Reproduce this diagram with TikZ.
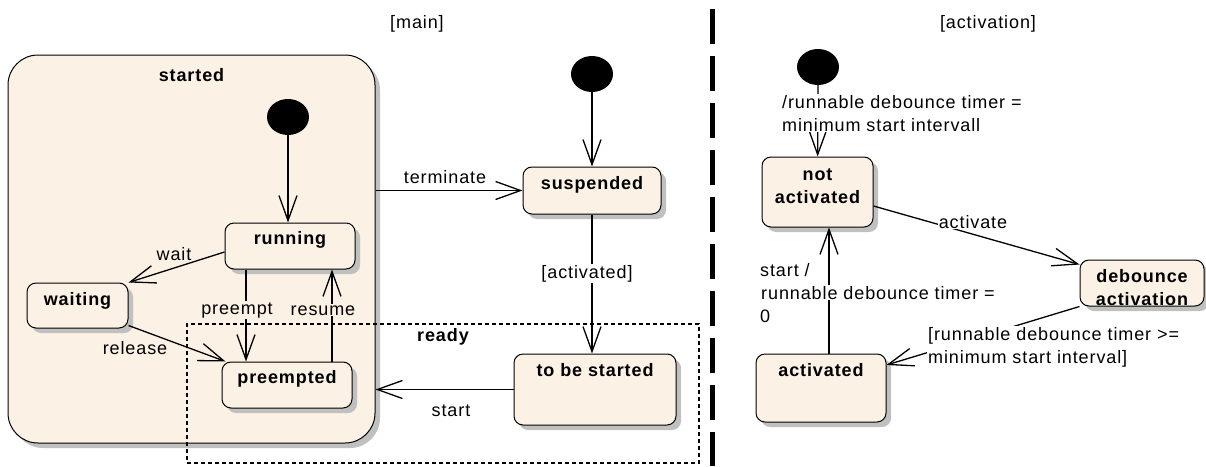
\documentclass[tikz,border=0pt]{standalone}
\usepackage{fontspec}
\setmainfont{Liberation Sans}[LetterSpace=5]
\usetikzlibrary{arrows.meta,positioning,shapes.geometric,shadows,calc}
\definecolor{stfill}{RGB}{251,241,228}
\definecolor{shade}{RGB}{192,192,192}

\begin{document}
\begin{tikzpicture}[
  x=1pt, y=-1pt,
  font=\fontsize{18}{23}\selectfont,
  state/.style={rectangle, draw, line width=1pt, rounded corners=9pt, fill=stfill, inner sep=0pt,
    drop shadow={shadow xshift=5pt, shadow yshift=-5pt, fill=shade, opacity=1}},
  init/.style={ellipse, fill=black, minimum width=42pt, minimum height=36pt, inner sep=0pt},
  stname/.style={anchor=base, yshift=-23pt, font=\fontsize{18}{23}\selectfont\bfseries, align=center, inner sep=0pt},
  trans/.style={-{Straight Barb[length=25pt, width=18pt]}, line width=1.3pt},
  lbl/.style={anchor=base, inner sep=1pt}
]
  \useasboundingbox (0,0) rectangle (1206,466);

  % main region
  \node[anchor=base] (mainhd) at (417,28) {[main]};
  \node[state, rounded corners=30pt, minimum width=367pt, minimum height=388pt,
    label={[stname, yshift=-4pt]north:started}] (started) at (191.5,249) {};
  \node[draw, line width=1.2pt, dash pattern=on 4pt off 3pt, minimum width=512pt, minimum height=139pt,
    inner sep=0pt, label={[stname, yshift=5pt]north:ready}] (ready) at (443,393.5) {};

  \node[init] (dotA) at (288,117) {};
  \node[state, minimum width=130pt, minimum height=46pt, label={[stname, yshift=1pt]north:running}] (run) at (290,246) {};
  \node[state, minimum width=101pt, minimum height=45pt, label={[stname]north:waiting}] (wait) at (77.5,305.5) {};
  \node[state, minimum width=130pt, minimum height=46pt, label={[stname, yshift=1pt]north:preempted}] (pre) at (287,385) {};

  \node[init] (dotB) at (592,74) {};
  \node[state, minimum width=138pt, minimum height=47pt, label={[stname]north:suspended}] (susp) at (592,190.5) {};
  \node[state, minimum width=162pt, minimum height=71pt, label={[stname]north:to be started}] (tbs) at (595,389.5) {};

  \draw[trans] (dotA) -- (dotA |- run.north);
  \draw[trans] ([yshift=-6pt]run.west) -- (wait.north east);
  \draw[trans] ([xshift=-44pt]run.south) -- ([xshift=-44pt]run.south |- pre.north);
  \draw[trans] ([xshift=42pt]run.south |- pre.north) -- ([xshift=42pt]run.south);
  \draw[trans] ([yshift=3pt]wait.south east) -- ([xshift=4pt]pre.north west);
  \draw[trans] (started.east |- susp.west) -- (susp.west);
  \draw[trans] (dotB) -- (susp);
  \draw[trans] (susp.south) -- (susp.south |- tbs.north);
  \draw[trans] (tbs.west) -- (tbs.west -| started.east);

  \node[lbl] (lwait) at (174,260) {wait};
  \node[lbl, fill=stfill] (lpreempt) at (237,314) {preempt};
  \node[lbl, fill=stfill] (lresume) at (323,315) {resume};
  \node[lbl] (lrelease) at (135,354) {release};
  \node[lbl] (lterm) at (445,183) {terminate};
  \node[lbl, fill=white] (lactd) at (587,278) {[activated]};
  \node[lbl] (lstart) at (451,416) {start};

  % separator
  \draw[line width=5pt, dash pattern=on 35pt off 12pt] (712,9) -- (712,466);

  % activation region
  \node[anchor=base] (acthd) at (988,28) {[activation]};
  \node[init] (dotC) at (818,67) {};
  \node[state, minimum width=111pt, minimum height=70pt, label={[stname, yshift=-24pt]north:{not\\activated}}] (notact) at (817.5,192) {};
  \node[state, minimum width=124pt, minimum height=46pt, label={[stname, yshift=-23pt]north:{debounce\\activation}}] (deb) at (1142,283) {};
  \node[state, minimum width=130pt, minimum height=68pt, label={[stname]north:activated}] (act) at (821,388) {};

  \draw[trans] (dotC) -- (notact);
  \draw[trans] ([yshift=-14pt]notact.east) -- ([yshift=-5pt]deb.north west);
  \draw[trans] (deb.south west) -- ([yshift=23pt]act.east);
  \draw[trans] ([xshift=8pt]act.north) -- ([xshift=8pt]act.north |- notact.south);

  \node[lbl, fill=white, anchor=base west, align=left] (linit) at (781,131)
    {/runnable debounce timer =\\minimum start intervall};
  \node[lbl, fill=white] (lactivate) at (973,228) {activate};
  \node[lbl, anchor=base west, align=left] (lreset) at (759,322)
    {start /\\{\fboxsep=1pt\colorbox{white}{runnable debounce timer =}}\\0};
  \node[lbl, fill=white, anchor=base west, align=left] (lguard) at (927,363)
    {[runnable debounce timer >=\\minimum start interval]};
\end{tikzpicture}
\end{document}
